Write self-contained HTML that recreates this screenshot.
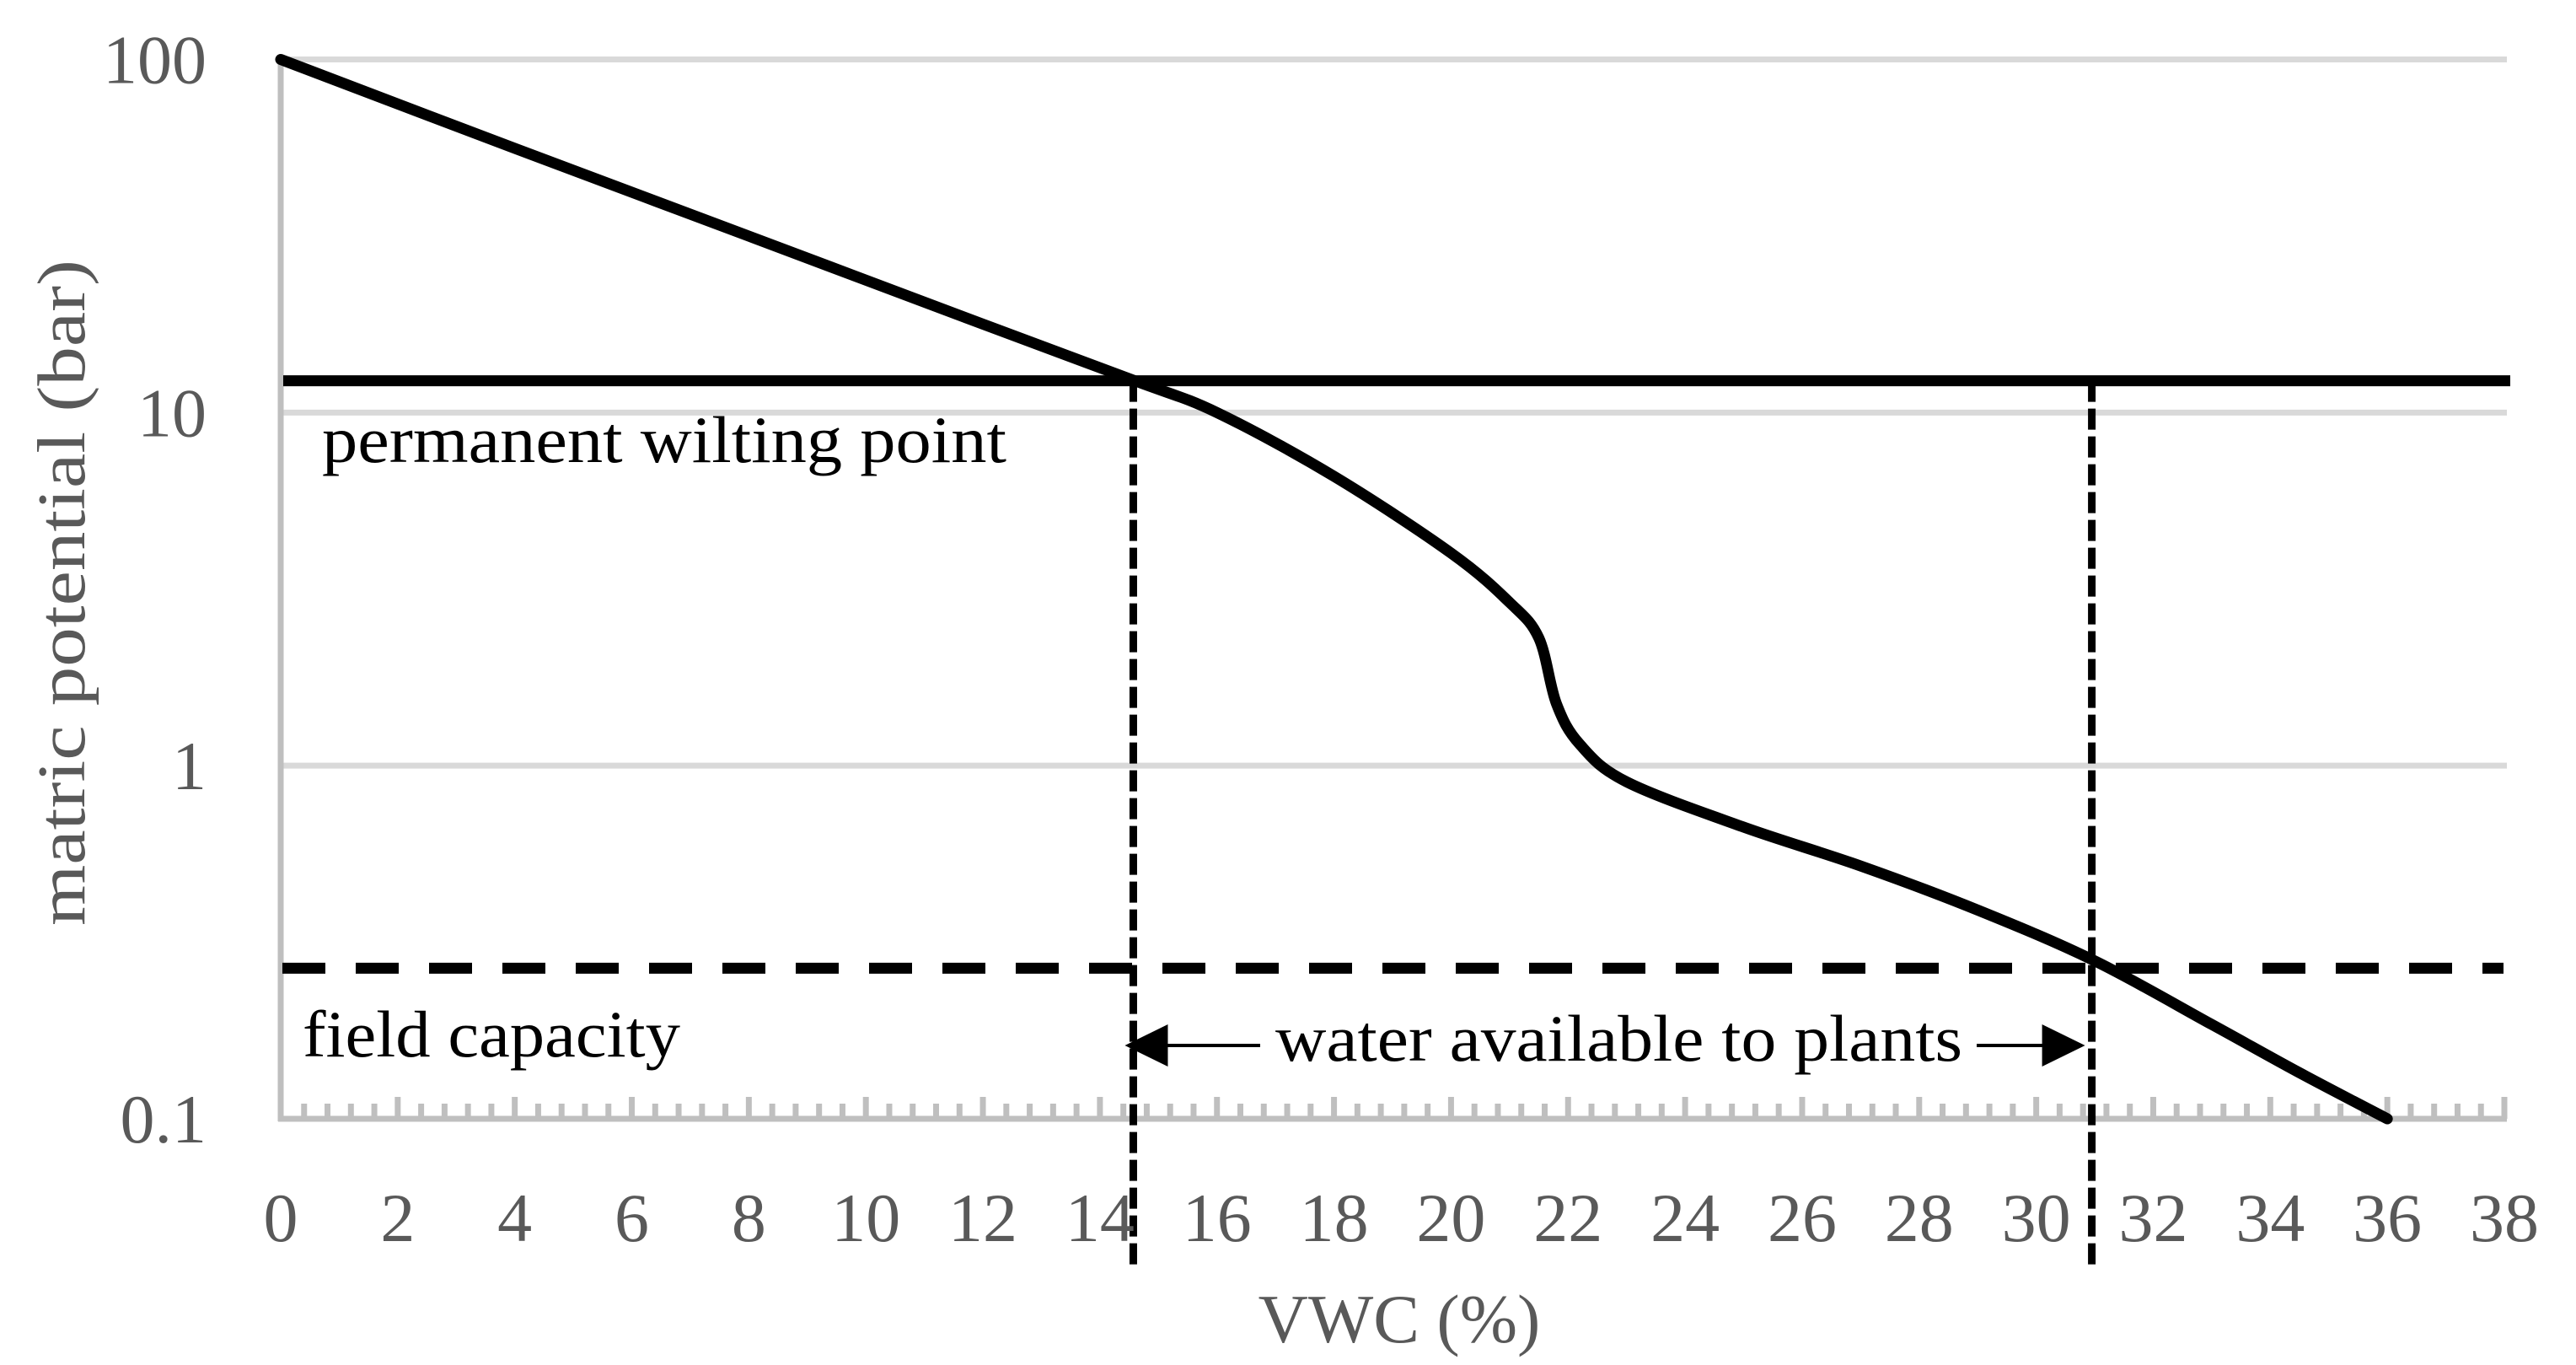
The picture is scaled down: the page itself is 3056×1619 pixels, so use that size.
<!DOCTYPE html>
<html><head><meta charset="utf-8"><style>
html,body{margin:0;padding:0;background:#fff;}
svg{display:block;}
text{font-family:"Liberation Serif",serif;}
</style></head><body>
<svg id="chart" width="3056" height="1619" viewBox="0 0 3056 1619" xmlns="http://www.w3.org/2000/svg">
<g id="grid"></g>
<g id="axes"></g>
<g id="marks"></g>
<g id="labels"></g>
</svg>
<script>
const vwc = [0, 4, 8, 12, 14.6, 16, 18, 20, 21, 21.5, 21.8, 22.2, 23, 25, 27, 29, 31, 33, 34.5, 36];
const potential = [100, 56, 31.6, 17.8, 12.3, 10, 6.6, 4.0, 2.9, 2.3, 1.5, 1.15, 0.9, 0.67, 0.52, 0.39, 0.28, 0.185, 0.135, 0.1];
const xTicks = [0,2,4,6,8,10,12,14,16,18,20,22,24,26,28,30,32,34,36,38];
const yTicks = [100, 10, 1, 0.1];
const yTickLabels = ["100", "10", "1", "0.1"];
const wiltingPoint = [12.3];
const fieldCapacity = [0.267];
const availableRange = [14.57, 30.95];

const NS = "http://www.w3.org/2000/svg";
const X0 = 333, X1 = 2971, Y100 = 70.5, Y01 = 1327;
function xs(v){ return X0 + (v - 0) / 38 * (X1 - X0); }
function ys(v){ return Y01 - (Math.log10(v) - Math.log10(0.1)) / 3 * (Y01 - Y100); }
function mk(tag, attrs, parent){ const e = document.createElementNS(NS, tag); for (const k in attrs) e.setAttribute(k, attrs[k]); parent.appendChild(e); return e; }

const grid = document.getElementById('grid'), axes = document.getElementById('axes'), marks = document.getElementById('marks'), labels = document.getElementById('labels');

yTicks.forEach((t, i) => {
  if (t === 0.1) return;
  const g = mk('line', {x1: X0, x2: X1 + 3, y1: ys(t), y2: ys(t), stroke: '#d9d9d9', 'stroke-width': 7}, grid);
  
  
});
yTicks.forEach((t, i) => {
  const tx = mk('text', {x: 245, y: ys(t) + 28, 'text-anchor': 'end', 'font-size': 82, fill: '#595959'}, labels);
  tx.textContent = yTickLabels[i];
  
  
});
const ya = mk('line', {x1: X0, x2: X0, y1: Y100 - 3, y2: Y01 + 3, stroke: '#bfbfbf', 'stroke-width': 7}, axes);


const xa = mk('line', {x1: X0 - 3, x2: X1 + 3, y1: Y01, y2: Y01, stroke: '#bfbfbf', 'stroke-width': 7}, axes);


for (let v = 0; v <= 38.001; v += 0.4) {
  const major = Math.abs(v / 2 - Math.round(v / 2)) < 0.01;
  const tk = mk('line', {x1: xs(v), x2: xs(v), y1: Y01, y2: Y01 - (major ? 26 : 18), stroke: '#bfbfbf', 'stroke-width': 7}, axes);
  
  
}
xTicks.forEach(t => {
  const tx = mk('text', {x: xs(t), y: 1472, 'text-anchor': 'middle', 'font-size': 82, fill: '#595959'}, labels);
  tx.textContent = String(t);
  
  
});

const pwp = mk('line', {x1: X0 + 3, x2: 2978, y1: ys(wiltingPoint[0]), y2: ys(wiltingPoint[0]), stroke: '#000', 'stroke-width': 13}, marks);


const fc = mk('line', {x1: 335, x2: 2970, y1: ys(fieldCapacity[0]), y2: ys(fieldCapacity[0]), stroke: '#000', 'stroke-width': 13, 'stroke-dasharray': '51 36'}, marks);


availableRange.forEach((v, i) => {
  const vl = mk('line', {x1: xs(v), x2: xs(v), y1: ys(wiltingPoint[0]), y2: 1505, stroke: '#000', 'stroke-width': 9, 'stroke-dasharray': '25 8'}, marks);
  
  
});

const pts = vwc.map((v, i) => [xs(v), ys(potential[i])]);
let d = 'M' + pts[0][0] + ',' + pts[0][1];
for (let i = 0; i < pts.length - 1; i++) {
  const p0 = pts[Math.max(0, i - 1)], p1 = pts[i], p2 = pts[i + 1], p3 = pts[Math.min(pts.length - 1, i + 2)];
  const c1 = [p1[0] + (p2[0] - p0[0]) / 6, p1[1] + (p2[1] - p0[1]) / 6];
  const c2 = [p2[0] - (p3[0] - p1[0]) / 6, p2[1] - (p3[1] - p1[1]) / 6];
  d += ' C' + c1[0] + ',' + c1[1] + ' ' + c2[0] + ',' + c2[1] + ' ' + p2[0] + ',' + p2[1];
}
const curve = mk('path', {d: d, fill: 'none', stroke: '#000', 'stroke-width': 13, 'stroke-linecap': 'round', 'stroke-linejoin': 'round'}, marks);



const ay = 1240;
const la = mk('line', {x1: xs(availableRange[0]) + 30, x2: 1495, y1: ay, y2: ay, stroke: '#000', 'stroke-width': 4}, marks);


const lh = mk('polygon', {points: (xs(availableRange[0]) - 10) + ',' + ay + ' ' + (xs(availableRange[0]) + 41) + ',' + (ay - 25) + ' ' + (xs(availableRange[0]) + 41) + ',' + (ay + 25), fill: '#000'}, marks);


const ra = mk('line', {x1: 2345, x2: xs(availableRange[1]) - 30, y1: ay, y2: ay, stroke: '#000', 'stroke-width': 4}, marks);


const rh = mk('polygon', {points: (xs(availableRange[1]) - 8) + ',' + ay + ' ' + (xs(availableRange[1]) - 59) + ',' + (ay - 25) + ' ' + (xs(availableRange[1]) - 59) + ',' + (ay + 25), fill: '#000'}, marks);



function txt(s, attrs, name){
  const t = mk('text', attrs, labels); t.textContent = s;
  
  
  return t;
}
txt('permanent wilting point', {x: 382, y: 548, 'font-size': 78, fill: '#000', textLength: 812, lengthAdjust: 'spacingAndGlyphs'}, 'wilting-point-label');
txt('field capacity', {x: 359, y: 1253, 'font-size': 78, fill: '#000', textLength: 448, lengthAdjust: 'spacingAndGlyphs'}, 'field-capacity-label');
txt('water available to plants', {x: 1513, y: 1258, 'font-size': 78, fill: '#000', textLength: 815, lengthAdjust: 'spacingAndGlyphs'}, 'water-available-label');
txt('VWC (%)', {x: 1660, y: 1592, 'text-anchor': 'middle', 'font-size': 82, fill: '#595959'}, 'x-axis-title');
txt('matric potential (bar)', {x: 0, y: 0, 'text-anchor': 'middle', 'font-size': 80, fill: '#595959', transform: 'translate(100,703) rotate(-90)', textLength: 790, lengthAdjust: 'spacingAndGlyphs'}, 'y-axis-title');
</script>
</body></html>
